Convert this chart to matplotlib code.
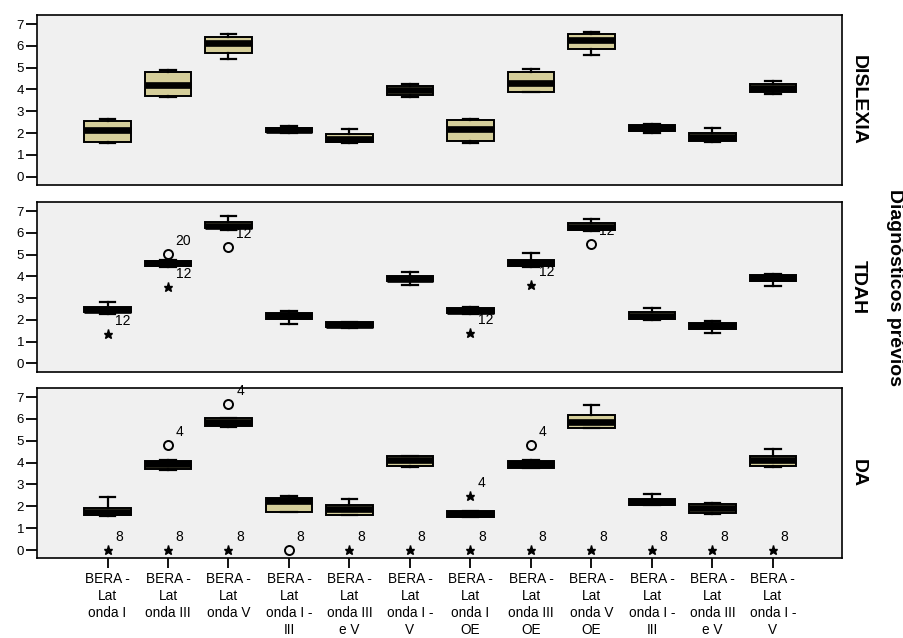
import matplotlib.pyplot as plt

plt.rcParams['font.family'] = ['Liberation Sans', 'DejaVu Sans']

labels = ['BERA -\nLat\nonda I', 'BERA -\nLat\nonda III', 'BERA -\nLat\nonda V',
          'BERA -\nLat\nonda I -\nIII', 'BERA -\nLat\nonda III\ne V', 'BERA -\nLat\nonda I -\nV',
          'BERA -\nLat\nonda I\nOE', 'BERA -\nLat\nonda III\nOE', 'BERA -\nLat\nonda V\nOE',
          'BERA -\nLat\nonda I -\nIII', 'BERA -\nLat\nonda III\ne V', 'BERA -\nLat\nonda I -\nV']
groups = ['DISLEXIA', 'TDAH', 'DA']

# DISLEXIA
dis_q1 = [1.59, 3.70, 5.66, 2.03, 1.58, 3.75, 1.62, 3.89, 5.84, 2.08, 1.63, 3.89]
dis_med = [2.12, 4.21, 6.12, 2.13, 1.75, 3.97, 2.18, 4.28, 6.27, 2.22, 1.80, 4.05]
dis_q3 = [2.57, 4.79, 6.42, 2.22, 1.97, 4.16, 2.60, 4.82, 6.55, 2.36, 2.02, 4.24]
dis_lo = [1.53, 3.67, 5.41, 2.00, 1.55, 3.67, 1.53, 3.87, 5.60, 2.02, 1.60, 3.81]
dis_hi = [2.63, 4.89, 6.56, 2.34, 2.20, 4.27, 2.65, 4.95, 6.64, 2.42, 2.23, 4.40]

# TDAH
tdah_q1 = [2.35, 4.48, 6.20, 2.05, 1.68, 3.78, 2.32, 4.48, 6.13, 2.06, 1.57, 3.78]
tdah_med = [2.45, 4.60, 6.33, 2.17, 1.78, 3.90, 2.42, 4.60, 6.28, 2.20, 1.70, 3.92]
tdah_q3 = [2.57, 4.72, 6.48, 2.32, 1.88, 4.03, 2.55, 4.75, 6.43, 2.36, 1.87, 4.08]
tdah_lo = [2.27, 4.44, 6.15, 1.83, 1.65, 3.61, 2.28, 4.44, 6.09, 2.00, 1.42, 3.54]
tdah_hi = [2.81, 4.75, 6.77, 2.39, 1.90, 4.18, 2.58, 5.07, 6.65, 2.56, 1.95, 4.11]

# DA
da_q1 = [1.58, 3.72, 5.68, 1.75, 1.62, 3.83, 1.52, 3.76, 5.58, 2.06, 1.70, 3.83]
da_med = [1.75, 3.94, 5.85, 2.24, 1.87, 4.13, 1.65, 3.92, 5.84, 2.20, 1.92, 4.12]
da_q3 = [1.93, 4.08, 6.02, 2.40, 2.04, 4.30, 1.77, 4.08, 6.18, 2.34, 2.12, 4.32]
da_lo = [1.56, 3.68, 5.65, 1.73, 1.59, 3.80, 1.50, 3.74, 5.56, 2.04, 1.67, 3.81]
da_hi = [2.42, 4.10, 6.04, 2.45, 2.34, 4.32, 1.79, 4.10, 6.65, 2.56, 2.14, 4.64]

# outliers: (box number, value, marker, case label)
dis_out = []
tdah_out = [(1, 1.35, '*', '12'), (2, 5.02, 'o', '20'), (2, 3.52, '*', '12'),
            (3, 5.33, 'o', '12'), (7, 1.38, '*', '12'), (8, 3.58, '*', '12'),
            (9, 5.48, 'o', '12')]
da_out = [(1, 0, '*', '8'), (2, 4.80, 'o', '4'), (2, 0, '*', '8'), (3, 6.66, 'o', '4'),
          (3, 0, '*', '8'), (4, 0, 'o', '8'), (5, 0, '*', '8'), (6, 0, '*', '8'),
          (7, 2.47, '*', '4'), (7, 0, '*', '8'), (8, 4.80, 'o', '4'), (8, 0, '*', '8'),
          (9, 0, '*', '8'), (10, 0, '*', '8'), (11, 0, '*', '8'), (12, 0, '*', '8')]

panels = [
    (dis_q1, dis_med, dis_q3, dis_lo, dis_hi, dis_out),
    (tdah_q1, tdah_med, tdah_q3, tdah_lo, tdah_hi, tdah_out),
    (da_q1, da_med, da_q3, da_lo, da_hi, da_out),
]

fig = plt.figure(figsize=(9.04, 6.38), dpi=100)
rects = [(0.0413, 0.710, 0.890, 0.266),
         (0.0413, 0.4174, 0.890, 0.2655),
         (0.0413, 0.1249, 0.890, 0.2665)]

tan = '#D5CE9A'
pos = list(range(1, 13))

for i, (q1, med, q3, lo, hi, outs) in enumerate(panels):
    ax = fig.add_axes(rects[i])
    ax.set_facecolor('#F0F0F0')
    stats = [dict(q1=a, med=b, q3=c, whislo=d, whishi=e, fliers=[])
             for a, b, c, d, e in zip(q1, med, q3, lo, hi)]
    ax.bxp(stats, positions=pos, widths=0.77, capwidths=0.26, patch_artist=True,
           showfliers=False,
           boxprops=dict(facecolor=tan, edgecolor='black', linewidth=1.4),
           whiskerprops=dict(color='black', linewidth=1.6),
           capprops=dict(color='black', linewidth=1.6),
           medianprops=dict(color='black', linewidth=4.8, solid_capstyle='butt'))
    for n, v, m, lab in outs:
        if m == 'o':
            ax.plot(n, v, 'o', ms=6.5, mfc='none', mec='black', mew=1.4)
        else:
            ax.plot(n, v, '*', ms=6.5, color='black')
        ax.annotate(lab, (n, v), xytext=(5.5, 9.5), textcoords='offset points',
                    ha='left', va='center', fontsize=10)
    ax.set_xlim(1 - 1.16, 12 + 1.14)
    ax.set_ylim(-0.38, 7.4)
    ax.set_yticks(range(8))
    ax.tick_params(axis='y', length=8, width=1.3, labelsize=9.5, pad=1.5)
    for s in ax.spines.values():
        s.set_linewidth(1.2)
    if i < 2:
        ax.set_xticks([])
    else:
        ax.set_xticks(pos)
        ax.set_xticklabels(labels, fontsize=9.8, linespacing=1.28)
        ax.tick_params(axis='x', length=7, width=1.3, pad=3)
    ax.text(1.01, 0.5, groups[i], transform=ax.transAxes, rotation=-90,
            ha='left', va='center', fontsize=14, fontweight='bold')

fig.text(0.989, 0.55, 'Diagnósticos prévios', rotation=-90, ha='center', va='center',
         fontsize=14, fontweight='bold')

fig.savefig('out.png', dpi=100)
